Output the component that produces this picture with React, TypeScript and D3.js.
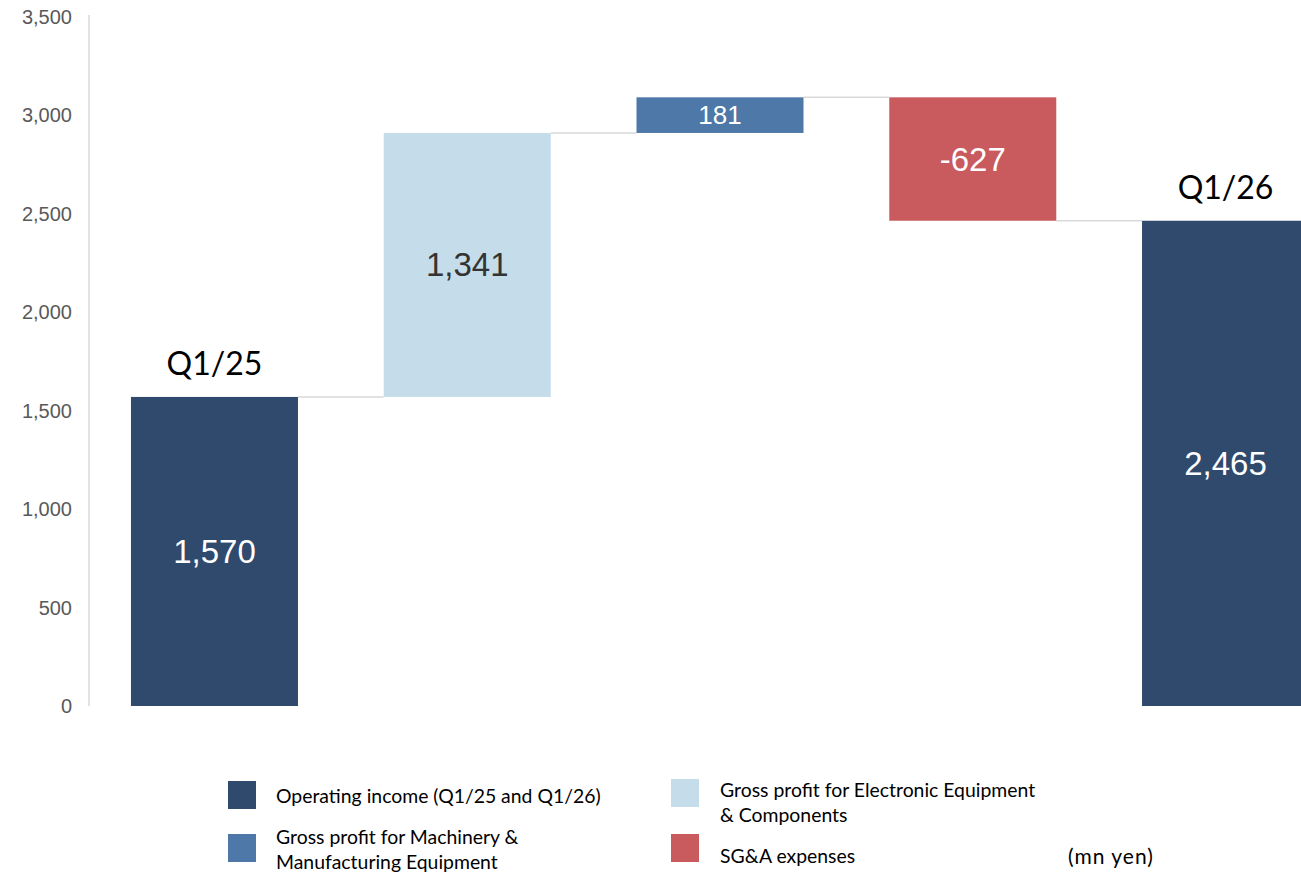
import * as d3 from "d3";

const W = 1301;
const H = 872;

// waterfall steps
const categories = ["Q1/25", "Electronic", "Machinery", "SG&A", "Q1/26"];
const deltas = [1570, 1341, 181, -627, 2465];
const kinds = ["total", "step", "step", "step", "total"];
const barColors = ["#2f4a6d", "#c5dcea", "#4e78a8", "#c95a5e", "#2f4a6d"];
const labelColors = ["#ffffff", "#333333", "#ffffff", "#ffffff", "#ffffff"];
const labelSizes = [33, 33, 26, 33, 33];
const yTicks = [0, 500, 1000, 1500, 2000, 2500, 3000, 3500];

const legendItems = [
  { lines: ["Operating income (Q1/25 and Q1/26)"], color: "#2f4a6d" },
  { lines: ["Gross profit for Electronic Equipment", "& Components"], color: "#c5dcea" },
  { lines: ["Gross profit for Machinery &", "Manufacturing Equipment"], color: "#4e78a8" },
  { lines: ["SG&A expenses"], color: "#c95a5e" },
];

const AXIS_X = 89;

const App = () => {
  const y = d3.scaleLinear().domain([0, 3500]).range([706, 17]);
  const x = d3
    .scaleBand<string>()
    .domain(categories)
    .range([AXIS_X, 1351])
    .paddingInner(0.3393)
    .paddingOuter(0.166);

  // compute start/end of each bar
  let running = 0;
  const bars = categories.map((c, i) => {
    let lo: number, hi: number;
    if (kinds[i] === "total") {
      lo = 0;
      hi = deltas[i];
      running = deltas[i];
    } else {
      const start = running;
      running += deltas[i];
      lo = Math.min(start, running);
      hi = Math.max(start, running);
    }
    return { c, i, lo, hi, end: running };
  });

  const fmt = (v: number) => d3.format(",")(v).replace("\u2212", "-");
  const bw = x.bandwidth();

  return (
    <svg width={W} height={H} style={{ position: "absolute", left: 0, top: 0 }}>
      <rect width={W} height={H} fill="#fff" />
      <line x1={AXIS_X} x2={AXIS_X} y1={15} y2={706} stroke="#d9d9d9" strokeWidth={1.5} />
      {yTicks.map((t) => (
        <text
          key={t}
          x={72}
          y={y(t)}
          textAnchor="end"
          dominantBaseline="central"
          fontFamily="Liberation Sans, Arial, sans-serif"
          fontSize={20}
          fill="#595959"
        >
          {fmt(t)}
        </text>
      ))}

      {/* connectors */}
      {bars.slice(0, -1).map((b, i) => (
        <line
          key={"c" + i}
          x1={(x(b.c) as number) + bw}
          x2={x(categories[i + 1]) as number}
          y1={y(b.end)}
          y2={y(b.end)}
          stroke="#d9d9d9"
          strokeWidth={1.5}
        />
      ))}

      {bars.map((b) => {
        const x0 = x(b.c) as number;
        return (
          <g key={b.c}>
            <rect x={x0} y={y(b.hi)} width={bw} height={y(b.lo) - y(b.hi)} fill={barColors[b.i]} />
            <text
              x={x0 + bw / 2}
              y={(y(b.lo) + y(b.hi)) / 2}
              textAnchor="middle"
              dominantBaseline="central"
              fontFamily="Liberation Sans, Arial, sans-serif"
              fontSize={labelSizes[b.i]}
              fill={labelColors[b.i]}
            >
              {fmt(deltas[b.i])}
            </text>
            {kinds[b.i] === "total" && (
              <text
                x={x0 + bw / 2}
                y={y(b.hi) - 22}
                textAnchor="middle"
                fontFamily="Lato, sans-serif"
                fontSize={32}
                fill="#000"
              >
                {b.c}
              </text>
            )}
          </g>
        );
      })}

      {/* legend */}
      {legendItems.map((item, i) => {
        const col = i % 2;
        const row = Math.floor(i / 2);
        const sx = col === 0 ? 228 : 671;
        const sy = row === 0 ? (col === 0 ? 781 : 779) : 834;
        const tx = col === 0 ? 276 : 720;
        const lineH = 25;
        const firstY =
          item.lines.length === 1
            ? sy + 14 + (row === 1 ? 7 : 0)
            : row === 0
              ? 789
              : 836;
        return (
          <g key={i}>
            <rect x={sx} y={sy} width={28} height={28} fill={item.color} />
            {item.lines.map((l, j) => (
              <text
                key={j}
                x={tx}
                y={firstY + j * lineH}
                dominantBaseline="central"
                fontFamily="Lato, sans-serif"
                fontSize={19.4}
                fill="#000"
              >
                {l}
              </text>
            ))}
          </g>
        );
      })}
      <text
        x={1068}
        y={855}
        dominantBaseline="central"
        fontFamily="Lato, sans-serif"
        fontSize={21}
        letterSpacing={1}
        fill="#000"
      >
        (mn yen)
      </text>
    </svg>
  );
};

export default App;
